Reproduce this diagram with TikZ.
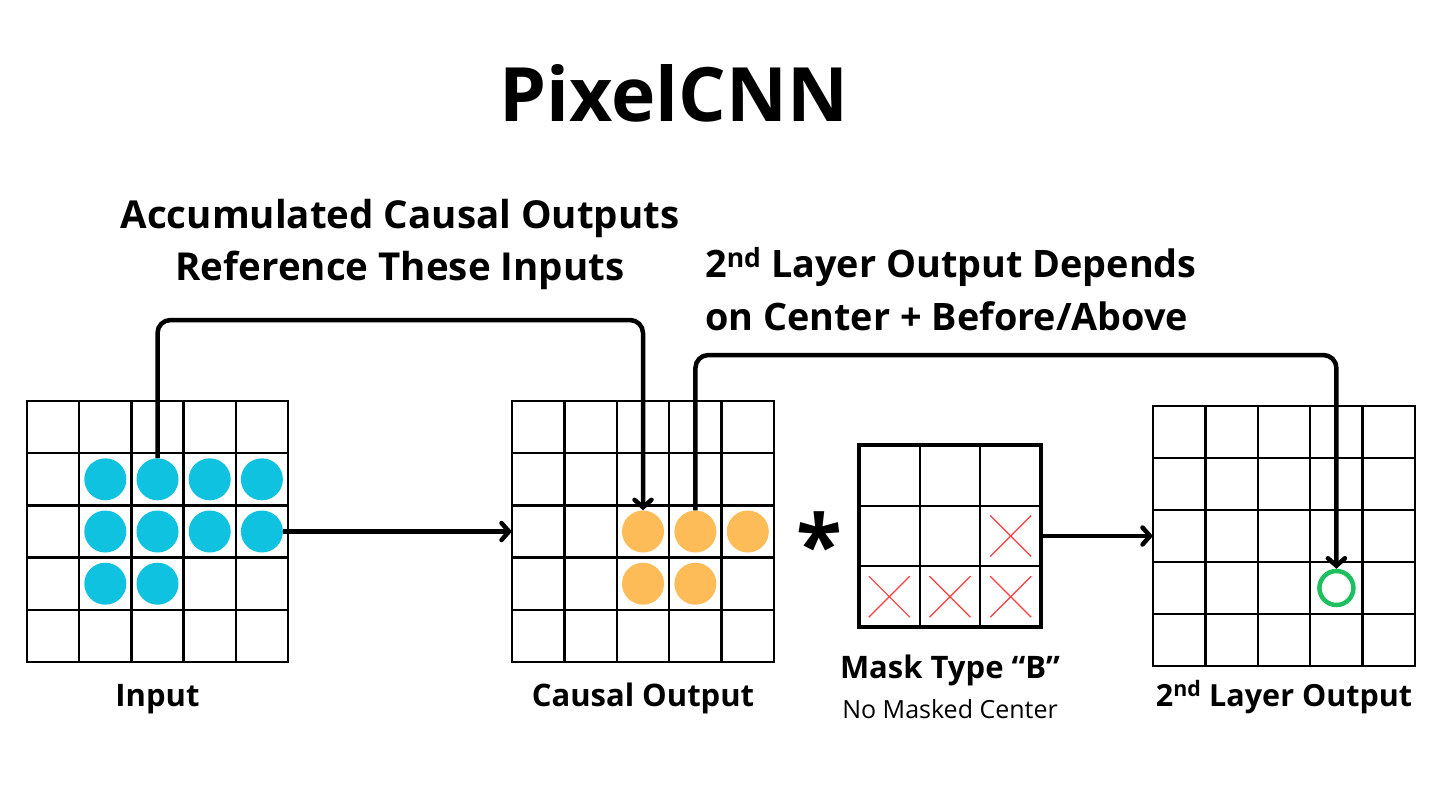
\documentclass[tikz,border=0pt]{standalone}
\usepackage{fontspec}
\setmainfont{Open Sans}
\usetikzlibrary{arrows.meta}
\definecolor{cy}{HTML}{0FC2E0}
\definecolor{og}{HTML}{FEBC59}
\definecolor{gr}{HTML}{1DBF5F}
\definecolor{xr}{HTML}{FF3B3B}
\tikzset{
  gl/.style={line width=2.3pt, black},
  gridbox/.style={draw, line width=2.3pt, inner sep=0pt, outer sep=0pt},
  maskbox/.style={draw, line width=4pt, inner sep=0pt, outer sep=0pt, minimum size=182pt},
  cdot/.style={circle, inner sep=0pt, minimum size=42pt},
  ring/.style={circle, draw=gr, line width=4.5pt, inner sep=0pt, minimum size=34pt},
  arr/.style={line width=4.5pt, -{Straight Barb[length=7.5pt,width=17pt,line cap=round]}, rounded corners=13pt},
  xm/.style={xr, line width=1.2pt},
  lbl/.style={font=\fontsize{31}{36}\selectfont\bfseries, anchor=base, inner sep=0pt},
  head/.style={font=\fontsize{38.5}{52}\selectfont\bfseries, anchor=base, inner sep=0pt}
}
\begin{document}
\begin{tikzpicture}[x=1pt,y=-1pt]
\useasboundingbox[fill=white] (0,0) rectangle (1439,801);

% title
\node[anchor=base, inner sep=0pt, font=\fontsize{75}{85}\selectfont\bfseries] (title) at (674,121) {PixelCNN};

% input grid
\node[gridbox, minimum width=261pt, minimum height=261pt] (G1) at (157.5,531.5) {};
\foreach \i in {1,...,4}{
  \draw[gl] (27+\i*52.2,401) -- (27+\i*52.2,662);
  \draw[gl] (27,401+\i*52.2) -- (288,401+\i*52.2);
}
\foreach \c/\r in {1/1,2/1,3/1,4/1,1/2,2/2,3/2,4/2,1/3,2/3}{
  \node[cdot, fill=cy] (in\r\c) at (53.1+\c*52.2, 427.1+\r*52.2) {};
}

% causal output grid
\node[gridbox, minimum width=262pt, minimum height=261pt] (G2) at (643,531.5) {};
\foreach \i in {1,...,4}{
  \draw[gl] (512+\i*52.4,401) -- (512+\i*52.4,662);
  \draw[gl] (512,401+\i*52.2) -- (774,401+\i*52.2);
}
\foreach \c/\r in {2/2,3/2,4/2,2/3,3/3}{
  \node[cdot, fill=og] (c\r\c) at (538.2+\c*52.4, 427.1+\r*52.2) {};
}

% mask
\node[maskbox] (M) at (950,536) {};
\foreach \i in {1,2}{
  \draw[line width=2pt] (859+\i*60.67,445) -- (859+\i*60.67,627);
  \draw[line width=2pt] (859,445+\i*60.67) -- (1041,445+\i*60.67);
}
\foreach \x/\y in {1010.7/536, 889.3/596.7, 950/596.7, 1010.7/596.7}{
  \draw[xm] (\x-20.5,\y-20.5) -- (\x+20.5,\y+20.5);
  \draw[xm] (\x-20.5,\y+20.5) -- (\x+20.5,\y-20.5);
}
\node[inner sep=0pt, font=\fontsize{84}{90}\selectfont\bfseries] (ast) at (819,544) {*};

% 2nd layer grid
\node[gridbox, minimum width=262pt, minimum height=260pt] (G3) at (1284,536) {};
\foreach \i in {1,...,4}{
  \draw[gl] (1153+\i*52.4,406) -- (1153+\i*52.4,666);
  \draw[gl] (1153,406+\i*52) -- (1415,406+\i*52);
}
\node[ring] (g) at (1336.4,588) {};

% connectors
\coordinate (h1) at (400,320);
\coordinate (h2) at (1000,355);
\draw[arr] (in12.north) |- (h1) -| (c22.north);
\draw[arr] (c23.north) |- (h2) -| (g.north);
\draw[arr, rounded corners=0pt] (in24.east) -- (G2.west |- in24.east);
\draw[arr, rounded corners=0pt] (M.east) -- (G3.west |- M.east);

% texts
\node[head] (t1) at (400,228) {Accumulated Causal Outputs};
\node[head] (t2) at (400,280) {Reference These Inputs};
\node[head, anchor=base west, font=\fontsize{37.8}{52}\selectfont\bfseries] (t3) at (705,277) {2\textsuperscript{nd} Layer Output Depends};
\node[head, anchor=base west, font=\fontsize{37.8}{52}\selectfont\bfseries] (t4) at (705,330) {on Center + Before/Above};

\node[lbl] (l1) at (157.5,706) {Input};
\node[lbl] (l2) at (643,706) {Causal Output};
\node[lbl] (l3) at (950,678) {Mask Type “B”};
\node[anchor=base, inner sep=0pt, font=\fontsize{25}{30}\selectfont] (l4) at (950,718) {No Masked Center};
\node[lbl, font=\fontsize{30.5}{36}\selectfont\bfseries] (l5) at (1284,706) {2\textsuperscript{nd} Layer Output};
\end{tikzpicture}
\end{document}
